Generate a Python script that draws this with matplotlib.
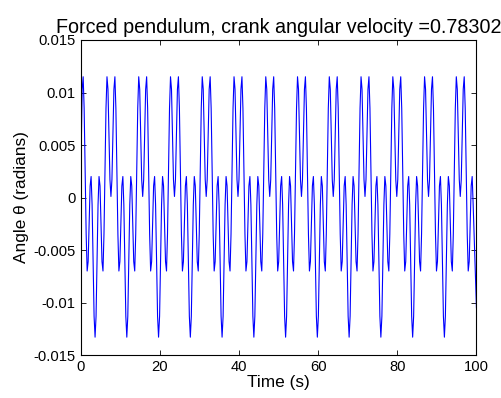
###############################################################################
# Forced pendulum - angle vs time
###############################################################################
import numpy as np
import matplotlib
matplotlib.use('Agg')
import matplotlib.pyplot as plt

plt.rcParams['font.family'] = ['Liberation Sans', 'DejaVu Sans']
###############################################################################
# Data (turning points + shoulders, one row per cycle)
###############################################################################
OMEGA = '0.78302'
tPts = [
    0.00, 0.38, 0.63, 0.88, 1.39, 1.64, 1.89, 2.39, 2.64, 2.89, 3.39, 3.64,
    3.89, 4.39, 4.64, 4.89, 5.39, 5.64, 5.89, 6.40, 6.65, 6.90, 7.40, 7.65,
    7.90, 8.40, 8.65, 8.90, 9.41, 9.66, 9.91, 10.41, 10.66, 10.91, 11.41, 11.66,
    11.91, 12.41, 12.66, 12.91, 13.41, 13.66, 13.91, 14.42, 14.67, 14.92, 15.42, 15.67,
    15.92, 16.42, 16.67, 16.92, 17.43, 17.68, 17.93, 18.43, 18.68, 18.93, 19.43, 19.68,
    19.94, 20.44, 20.69, 20.94, 21.44, 21.69, 21.94, 22.45, 22.70, 22.95, 23.45, 23.70,
    23.95, 24.45, 24.70, 24.95, 25.46, 25.71, 25.96, 26.46, 26.71, 26.96, 27.46, 27.71,
    27.96, 28.46, 28.71, 28.96, 29.46, 29.71, 29.96, 30.47, 30.72, 30.97, 31.47, 31.72,
    31.97, 32.47, 32.72, 32.97, 33.48, 33.73, 33.98, 34.48, 34.73, 34.98, 35.48, 35.73,
    35.99, 36.49, 36.74, 36.99, 37.49, 37.74, 37.99, 38.50, 38.75, 39.00, 39.50, 39.75,
    40.00, 40.50, 40.75, 41.00, 41.51, 41.76, 42.01, 42.51, 42.76, 43.01, 43.51, 43.76,
    44.01, 44.51, 44.76, 45.01, 45.51, 45.76, 46.01, 46.52, 46.77, 47.02, 47.52, 47.77,
    48.02, 48.52, 48.77, 49.02, 49.53, 49.78, 50.03, 50.53, 50.78, 51.03, 51.53, 51.78,
    52.03, 52.53, 52.78, 53.03, 53.53, 53.78, 54.03, 54.54, 54.79, 55.04, 55.54, 55.79,
    56.04, 56.54, 56.79, 57.04, 57.55, 57.80, 58.05, 58.55, 58.80, 59.05, 59.55, 59.80,
    60.06, 60.56, 60.81, 61.06, 61.56, 61.81, 62.06, 62.57, 62.82, 63.07, 63.57, 63.82,
    64.07, 64.57, 64.82, 65.07, 65.58, 65.83, 66.08, 66.58, 66.83, 67.08, 67.58, 67.83,
    68.08, 68.58, 68.83, 69.08, 69.58, 69.83, 70.08, 70.59, 70.84, 71.09, 71.59, 71.84,
    72.09, 72.59, 72.84, 73.09, 73.60, 73.85, 74.10, 74.60, 74.85, 75.10, 75.60, 75.85,
    76.11, 76.61, 76.86, 77.11, 77.61, 77.86, 78.11, 78.62, 78.87, 79.12, 79.62, 79.87,
    80.12, 80.62, 80.87, 81.12, 81.63, 81.88, 82.13, 82.63, 82.88, 83.13, 83.63, 83.88,
    84.13, 84.63, 84.88, 85.13, 85.63, 85.88, 86.13, 86.64, 86.89, 87.14, 87.64, 87.89,
    88.14, 88.64, 88.89, 89.14, 89.65, 89.90, 90.15, 90.65, 90.90, 91.15, 91.65, 91.90,
    92.15, 92.65, 92.90, 93.15, 93.65, 93.90, 94.15, 94.66, 94.91, 95.16, 95.66, 95.91,
    96.16, 96.66, 96.91, 97.16, 97.67, 97.92, 98.17, 98.67, 98.92, 99.17, 100.00,
]
thPts = [
    0.0012, 0.0103, 0.0115, 0.0085, -0.0035, -0.0070, -0.0061, 0.0011, 0.0020, -0.0007, -0.0113, -0.0133,
    -0.0113, -0.0007, 0.0020, 0.0011, -0.0061, -0.0070, -0.0035, 0.0085, 0.0115, 0.0103, 0.0017, 0.0001,
    0.0017, 0.0103, 0.0115, 0.0085, -0.0035, -0.0070, -0.0061, 0.0011, 0.0020, -0.0007, -0.0113, -0.0133,
    -0.0113, -0.0007, 0.0020, 0.0011, -0.0061, -0.0070, -0.0035, 0.0085, 0.0115, 0.0103, 0.0017, 0.0001,
    0.0017, 0.0103, 0.0115, 0.0085, -0.0035, -0.0070, -0.0061, 0.0011, 0.0020, -0.0007, -0.0113, -0.0133,
    -0.0113, -0.0007, 0.0020, 0.0011, -0.0061, -0.0070, -0.0035, 0.0085, 0.0115, 0.0103, 0.0017, 0.0001,
    0.0017, 0.0103, 0.0115, 0.0085, -0.0035, -0.0070, -0.0061, 0.0011, 0.0020, -0.0007, -0.0113, -0.0133,
    -0.0113, -0.0007, 0.0020, 0.0011, -0.0061, -0.0070, -0.0035, 0.0085, 0.0115, 0.0103, 0.0017, 0.0001,
    0.0017, 0.0103, 0.0115, 0.0085, -0.0035, -0.0070, -0.0061, 0.0011, 0.0020, -0.0007, -0.0113, -0.0133,
    -0.0113, -0.0007, 0.0020, 0.0011, -0.0061, -0.0070, -0.0035, 0.0085, 0.0115, 0.0103, 0.0017, 0.0001,
    0.0017, 0.0103, 0.0115, 0.0085, -0.0035, -0.0070, -0.0061, 0.0011, 0.0020, -0.0007, -0.0113, -0.0133,
    -0.0113, -0.0007, 0.0020, 0.0011, -0.0061, -0.0070, -0.0035, 0.0085, 0.0115, 0.0103, 0.0017, 0.0001,
    0.0017, 0.0103, 0.0115, 0.0085, -0.0035, -0.0070, -0.0061, 0.0011, 0.0020, -0.0007, -0.0113, -0.0133,
    -0.0113, -0.0007, 0.0020, 0.0011, -0.0061, -0.0070, -0.0035, 0.0085, 0.0115, 0.0103, 0.0017, 0.0001,
    0.0017, 0.0103, 0.0115, 0.0085, -0.0035, -0.0070, -0.0061, 0.0011, 0.0020, -0.0007, -0.0113, -0.0133,
    -0.0113, -0.0007, 0.0020, 0.0011, -0.0061, -0.0070, -0.0035, 0.0085, 0.0115, 0.0103, 0.0017, 0.0001,
    0.0017, 0.0103, 0.0115, 0.0085, -0.0035, -0.0070, -0.0061, 0.0011, 0.0020, -0.0007, -0.0113, -0.0133,
    -0.0113, -0.0007, 0.0020, 0.0011, -0.0061, -0.0070, -0.0035, 0.0085, 0.0115, 0.0103, 0.0017, 0.0001,
    0.0017, 0.0103, 0.0115, 0.0085, -0.0035, -0.0070, -0.0061, 0.0011, 0.0020, -0.0007, -0.0113, -0.0133,
    -0.0113, -0.0007, 0.0020, 0.0011, -0.0061, -0.0070, -0.0035, 0.0085, 0.0115, 0.0103, 0.0017, 0.0001,
    0.0017, 0.0103, 0.0115, 0.0085, -0.0035, -0.0070, -0.0061, 0.0011, 0.0020, -0.0007, -0.0113, -0.0133,
    -0.0113, -0.0007, 0.0020, 0.0011, -0.0061, -0.0070, -0.0035, 0.0085, 0.0115, 0.0103, 0.0017, 0.0001,
    0.0017, 0.0103, 0.0115, 0.0085, -0.0035, -0.0070, -0.0061, 0.0011, 0.0020, -0.0007, -0.0113, -0.0133,
    -0.0113, -0.0007, 0.0020, 0.0011, -0.0061, -0.0070, -0.0035, 0.0085, 0.0115, 0.0103, 0.0017, 0.0001,
    0.0017, 0.0103, 0.0115, 0.0085, -0.0035, -0.0070, -0.0061, 0.0011, 0.0020, -0.0007, -0.0105,
]
xTicks = [0, 20, 40, 60, 80, 100]
yTicks = [-0.015, -0.01, -0.005, 0, 0.005, 0.01, 0.015]
yTickLabels = ['-0.015', '-0.01', '-0.005', '0', '0.005', '0.01', '0.015']
###############################################################################
# Plot
###############################################################################
fig = plt.figure(figsize=(5.01, 3.98), dpi=100)
ax = fig.add_axes([0.161, 0.108, 0.790, 0.7915])
ax.plot(tPts, thPts, color=(0, 0, 1), lw=0.8)
# Axes ------------------------------------------------------------------------
ax.set_xlim(0, 100)
ax.set_ylim(-0.015, 0.015)
ax.set_xticks(xTicks)
ax.set_xticklabels([str(i) for i in xTicks])
ax.set_yticks(yTicks)
ax.set_yticklabels(yTickLabels)
ax.tick_params(
    direction='in', length=3.5, width=0.6, top=True, right=True,
    labelsize=10.6, pad=3.5
)
for sp in ax.spines.values():
    sp.set_linewidth(0.8)
ax.set_xlabel('Time (s)', fontsize=12.4, labelpad=1)
ax.set_ylabel('Angle θ (radians)', fontsize=12.4, labelpad=3)
ax.set_title(
    'Forced pendulum, crank angular velocity ='+OMEGA, fontsize=14.2, pad=5
)
fig.savefig('out.png', dpi=100)
plt.close('all')
